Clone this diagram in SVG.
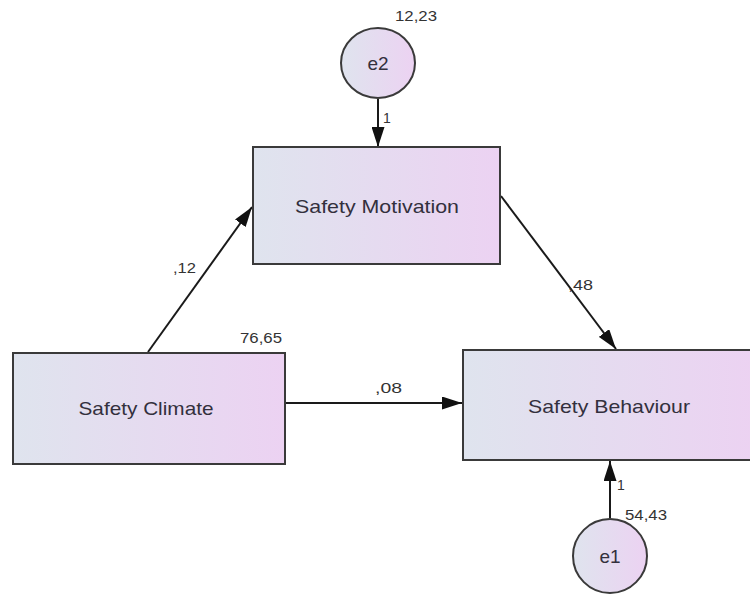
<svg xmlns="http://www.w3.org/2000/svg" width="750" height="594" viewBox="0 0 750 594">
<style>
.node{stroke:#3a3a3a;stroke-width:2}
.lbl{font-family:"Liberation Sans",Arial,sans-serif;font-size:19px;fill:#33303d;text-anchor:middle}
.num{font-family:"Liberation Sans",Arial,sans-serif;font-size:14px;fill:#333}
.edge{stroke:#1a1a1a;stroke-width:2;fill:none;marker-end:url(#ah)}
</style>
<defs>
<linearGradient id="g" x1="0" y1="0" x2="1" y2="0">
<stop offset="0" stop-color="#dfe4ee"/>
<stop offset="1" stop-color="#ecd2f2"/>
</linearGradient>
<marker id="ah" markerUnits="userSpaceOnUse" markerWidth="20" markerHeight="13" refX="20" refY="6.5" orient="auto">
<path d="M0,0 L20,6.5 L0,13 z" fill="#111"/>
</marker>
</defs>
<rect width="750" height="594" fill="#fff"/>
<g id="connectors">
<line class="edge" x1="378" y1="99" x2="378" y2="147"/>
<line class="edge" x1="148" y1="352" x2="252" y2="207"/>
<line class="edge" x1="501" y1="196" x2="616" y2="349"/>
<line class="edge" x1="286" y1="403" x2="462" y2="403"/>
<line class="edge" x1="610" y1="518" x2="610" y2="461"/>
<text class="num" x="383" y="123" font-size="15">1</text>
<text class="num" x="173" y="273" textLength="23" lengthAdjust="spacingAndGlyphs">,12</text>
<text class="num" x="568" y="290" textLength="25" lengthAdjust="spacingAndGlyphs">,48</text>
<text class="num" x="375" y="393" textLength="27" lengthAdjust="spacingAndGlyphs">,08</text>
<text class="num" x="617" y="490" font-size="15">1</text>
</g>
<g id="e2">
<ellipse class="node" cx="378" cy="63" rx="37" ry="35" fill="url(#g)"/>
<text class="lbl" x="378" y="70">e2</text>
<text class="num" x="395" y="21" textLength="42" lengthAdjust="spacingAndGlyphs">12,23</text>
</g>
<g id="safety-motivation">
<rect class="node" x="253" y="147" width="247" height="117" fill="url(#g)"/>
<text class="lbl" x="377" y="213" textLength="164" lengthAdjust="spacingAndGlyphs">Safety Motivation</text>
</g>
<g id="safety-climate">
<rect class="node" x="13" y="353" width="272" height="111" fill="url(#g)"/>
<text class="lbl" x="146" y="415" textLength="135" lengthAdjust="spacingAndGlyphs">Safety Climate</text>
<text class="num" x="240" y="343" textLength="42" lengthAdjust="spacingAndGlyphs">76,65</text>
</g>
<g id="safety-behaviour">
<rect class="node" x="463" y="350" width="292" height="110" fill="url(#g)"/>
<text class="lbl" x="609" y="413" textLength="162" lengthAdjust="spacingAndGlyphs">Safety Behaviour</text>
</g>
<g id="e1">
<ellipse class="node" cx="610" cy="556" rx="37" ry="37" fill="url(#g)"/>
<text class="lbl" x="610" y="563">e1</text>
<text class="num" x="625" y="520" textLength="42" lengthAdjust="spacingAndGlyphs">54,43</text>
</g>
</svg>
